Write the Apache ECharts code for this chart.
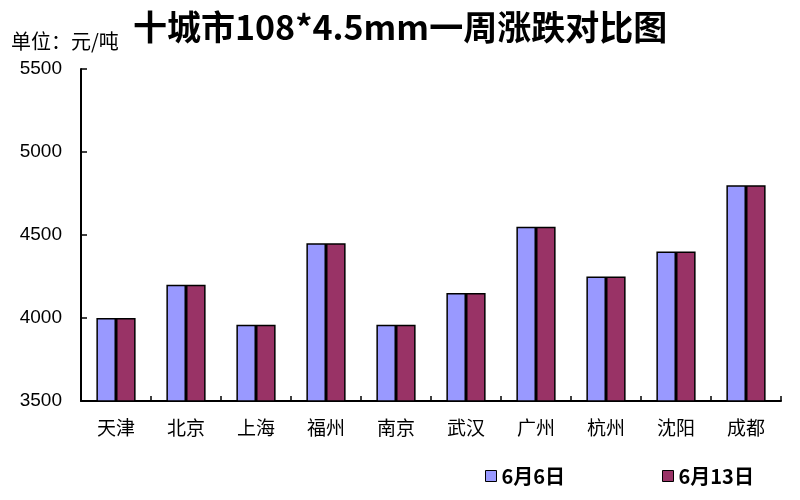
<!DOCTYPE html>
<html>
<head>
<meta charset="utf-8">
<script src="https://cdn.jsdelivr.net/npm/echarts@6/dist/echarts.min.js"></script>
<style>html,body{margin:0;padding:0;background:#fff;}#c{width:800px;height:500px;}</style>
</head>
<body>
<div id="c"></div>
<script>
var categories = ['天津','北京','上海','福州','南京','武汉','广州','杭州','沈阳','成都'];
var seriesNames = ['6月6日','6月13日'];
var june6 = [4000,4200,3960,4450,3960,4150,4550,4250,4400,4800];
var june13 = [4000,4200,3960,4450,3960,4150,4550,4250,4400,4800];
var yTicks = {min:3500, max:5500, interval:500};

var chart = echarts.init(document.getElementById('c'));
var legendText = {fontFamily:'Noto Sans CJK SC', fontSize:20, fontWeight:'bold', color:'#000'};
chart.setOption({
  animation:false,
  backgroundColor:'#fff',
  title:[
    {text:'十城市108*4.5mm一周涨跌对比图', left:128, top:5,
     textStyle:{fontFamily:'Noto Sans CJK SC', fontSize:34, fontWeight:'bold', color:'#000'}},
    {text:'单位：元/吨', left:6, top:26,
     textStyle:{fontFamily:'Noto Sans CJK SC', fontSize:20, fontWeight:'normal', color:'#000'}}
  ],
  legend:[
    {data:[seriesNames[0]], left:480, top:461, itemWidth:11, itemHeight:11, itemGap:0,
     icon:'rect', textStyle:legendText, itemStyle:{borderColor:'#000', borderWidth:1}},
    {data:[seriesNames[1]], left:657, top:461, itemWidth:11, itemHeight:11, itemGap:0,
     icon:'rect', textStyle:legendText, itemStyle:{borderColor:'#000', borderWidth:1}}
  ],
  grid:{left:81, right:19, top:69, bottom:99, containLabel:false},
  xAxis:{
    type:'category', data:categories,
    axisLine:{lineStyle:{color:'#000', width:2}},
    axisTick:{show:true, inside:true, length:5, lineStyle:{color:'#000', width:1.5}},
    axisLabel:{fontFamily:'Noto Sans CJK SC', fontSize:19, color:'#000', margin:17}
  },
  yAxis:{
    type:'value', min:yTicks.min, max:yTicks.max, interval:yTicks.interval,
    axisLine:{show:true, lineStyle:{color:'#000', width:2}},
    axisTick:{show:true, inside:true, length:6, lineStyle:{color:'#000', width:1.5}},
    axisLabel:{fontFamily:'Liberation Sans', fontSize:19, color:'#000', margin:19,
      formatter:function(v){return String(v);}},
    splitLine:{show:false}
  },
  series:[
    {name:seriesNames[0], type:'bar', data:june6, barGap:'0%', barCategoryGap:'44%',
     itemStyle:{color:'#9999FF', borderColor:'#000', borderWidth:1.5}},
    {name:seriesNames[1], type:'bar', data:june13, barGap:'0%', barCategoryGap:'44%',
     itemStyle:{color:'#993366', borderColor:'#000', borderWidth:1.5}}
  ]
});
</script>
</body>
</html>
